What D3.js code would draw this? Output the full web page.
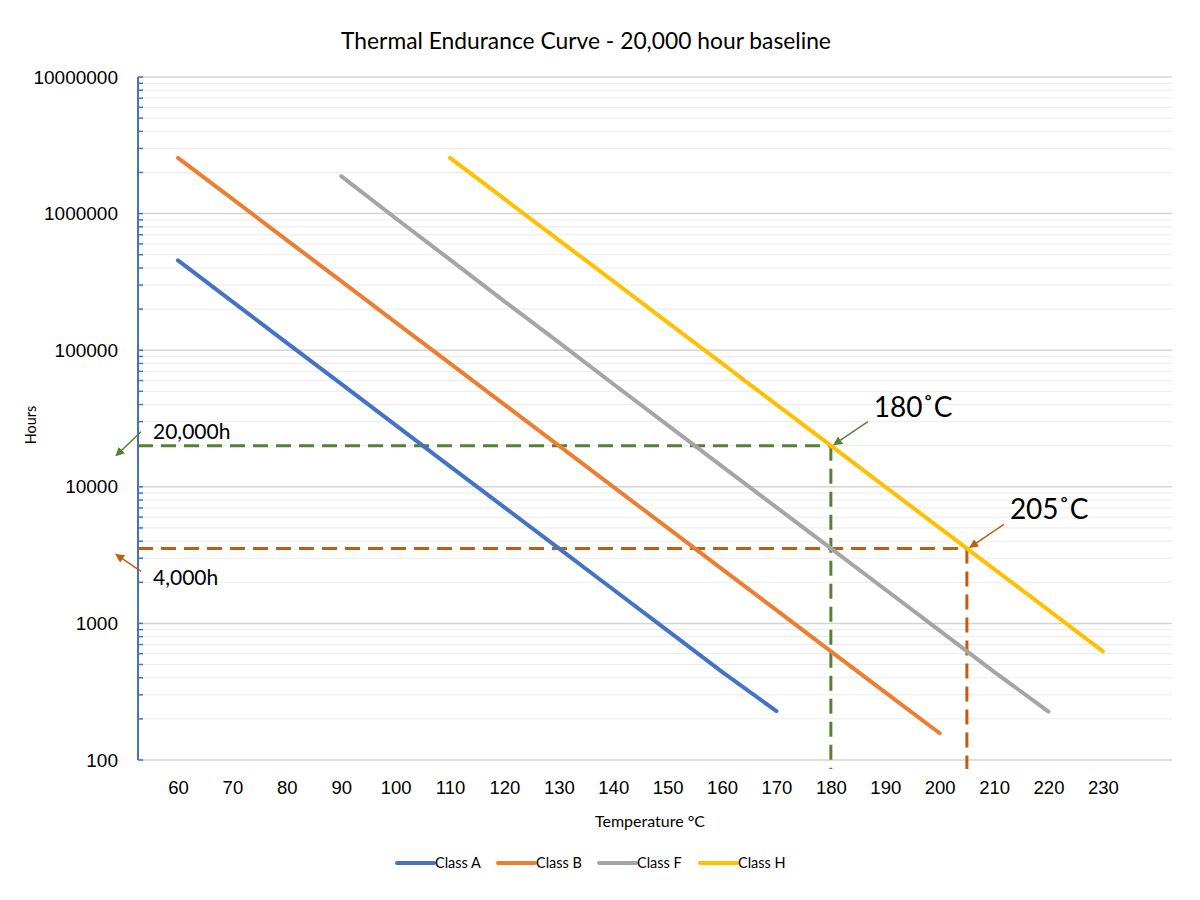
<!DOCTYPE html>
<html>
<head>
<meta charset="utf-8">
<script src="https://cdn.jsdelivr.net/npm/d3@7"></script>
<style>
  body { margin: 0; background: #fff; }
  svg { font-family: Lato, "Open Sans", sans-serif; }
</style>
</head>
<body>
<div id="grafico"></div>
<script>
// Datos (horas por temperatura, cada 10 grados)
var clases = ["Class A", "Class B", "Class F", "Class H"];
var colores = ["#4472C4", "#ED7D31", "#A5A5A5", "#FFC000"];
var tempA = [60, 70, 80, 90, 100, 110, 120, 130, 140, 150, 160, 170];
var horasA = [455000, 227000, 113000, 56600, 28300, 14100, 7070, 3540, 1770, 884, 442, 228];
var tempB = [60, 70, 80, 90, 100, 110, 120, 130, 140, 150, 160, 170, 180, 190, 200];
var horasB = [2560000, 1280000, 640000, 320000, 160000, 80000, 40000, 20000, 10000, 5000, 2500, 1250, 625, 313, 157];
var tempF = [90, 100, 110, 120, 130, 140, 150, 160, 170, 180, 190, 200, 210, 220];
var horasF = [1880000, 925000, 460000, 228000, 114000, 56600, 28300, 14100, 7070, 3540, 1770, 884, 442, 226];
var tempH = [110, 120, 130, 140, 150, 160, 170, 180, 190, 200, 210, 220, 230];
var horasH = [2560000, 1280000, 640000, 320000, 160000, 80000, 40000, 20000, 10000, 5000, 2500, 1250, 625];
var ticksX = [60, 70, 80, 90, 100, 110, 120, 130, 140, 150, 160, 170, 180, 190, 200, 210, 220, 230];
var ticksY = [100, 1000, 10000, 100000, 1000000, 10000000];

// Lineas de referencia (temperatura, horas, etiquetas)
var refTemp = [180, 205];
var refHoras = [20000, 3540];
var refEtiqT = ["180˚C", "205˚C"];
var refEtiqH = ["20,000h", "4,000h"];
var refColor = ["#548235", "#C55A11"];

var series = [
  {nombre: clases[0], t: tempA, h: horasA},
  {nombre: clases[1], t: tempB, h: horasB},
  {nombre: clases[2], t: tempF, h: horasF},
  {nombre: clases[3], t: tempH, h: horasH}
];

var svg = d3.select("#grafico").append("svg")
            .attr("width", 1200)
            .attr("height", 900);

var margin = {top: 77, right: 28, bottom: 140, left: 138},
    width = 1200 - margin.left - margin.right,
    height = 900 - margin.top - margin.bottom,
    g = svg.append("g").attr("transform", "translate(" + margin.left + "," + margin.top + ")");

var x = d3.scaleLinear().domain([52.65, 242.7]).range([0, width]);
var y = d3.scaleLog().domain([100, 10000000]).range([height, 0]);

// marcadores de flecha
var defs = svg.append("defs");
refColor.forEach(function(c, i) {
  defs.append("marker")
      .attr("id", "flecha" + i)
      .attr("viewBox", "0 0 10 10")
      .attr("refX", 9).attr("refY", 5)
      .attr("markerWidth", 6).attr("markerHeight", 6)
      .attr("orient", "auto")
      .append("path").attr("d", "M0,0L10,5L0,10z").attr("fill", c);
});

// rejilla menor y mayor
var menores = [];
for (var e = 2; e < 7; e++) for (var m = 2; m < 10; m++) menores.push(m * Math.pow(10, e));
g.append("g").selectAll("line").data(menores).enter().append("line")
 .attr("x1", 0).attr("x2", width)
 .attr("y1", function(d) { return y(d); }).attr("y2", function(d) { return y(d); })
 .attr("stroke", "#ebebeb").attr("stroke-width", 1);
g.append("g").selectAll("line").data(ticksY).enter().append("line")
 .attr("x1", 0).attr("x2", width)
 .attr("y1", function(d) { return y(d); }).attr("y2", function(d) { return y(d); })
 .attr("stroke", "#d4d4d4").attr("stroke-width", 1.5);

// eje y
var ejeY = g.append("g")
 .call(d3.axisLeft(y).tickValues(ticksY).tickFormat(d3.format("d")).tickSize(0).tickPadding(20));
ejeY.select(".domain").remove();
ejeY.selectAll("text").attr("font-size", 19).attr("fill", "#000");
g.append("g").selectAll("line").data(menores.concat(ticksY)).enter().append("line")
 .attr("x1", 0).attr("x2", 5)
 .attr("y1", function(d) { return y(d); }).attr("y2", function(d) { return y(d); })
 .attr("stroke", "#4472C4").attr("stroke-width", 1.5);
g.append("line").attr("x1", 0).attr("x2", 0).attr("y1", 0).attr("y2", height)
 .attr("stroke", "#4472C4").attr("stroke-width", 2);

// eje x
var ejeX = g.append("g").attr("transform", "translate(0," + height + ")")
 .call(d3.axisBottom(x).tickValues(ticksX).tickFormat(d3.format("d")).tickSize(0).tickPadding(21));
ejeX.select(".domain").remove();
ejeX.selectAll("text").attr("font-size", 18.5).attr("fill", "#000");

// lineas de referencia discontinuas
refTemp.forEach(function(t, i) {
  g.append("path")
   .attr("d", "M0," + y(refHoras[i]) + "H" + x(t) + "M" + x(t) + "," + y(refHoras[i]) + "V" + (height + 9))
   .attr("fill", "none").attr("stroke", refColor[i]).attr("stroke-width", 3)
   .attr("stroke-dasharray", "15,8");
});

// series
var linea = d3.line().x(function(d) { return x(d[0]); }).y(function(d) { return y(d[1]); });
g.append("g").selectAll("path").data(series).enter().append("path")
 .attr("d", function(s) { return linea(d3.zip(s.t, s.h)); })
 .attr("fill", "none")
 .attr("stroke", function(s, i) { return colores[i]; })
 .attr("stroke-width", 4)
 .attr("stroke-linecap", "round");

// anotaciones
refTemp.forEach(function(t, i) {
  var px = x(t), py = y(refHoras[i]);
  g.append("line")
   .attr("x1", px + 37).attr("y1", py - 24).attr("x2", px + 3).attr("y2", py - 1)
   .attr("stroke", refColor[i]).attr("stroke-width", 1.5)
   .attr("marker-end", "url(#flecha" + i + ")");
  g.append("text").attr("x", px + 43).attr("y", py - 29)
   .attr("font-size", 28).attr("fill", "#000").text(refEtiqT[i]);
});
// flechas del eje y
g.append("line").attr("x1", 3).attr("y1", y(refHoras[0]) - 14).attr("x2", -22).attr("y2", y(refHoras[0]) + 10)
 .attr("stroke", refColor[0]).attr("stroke-width", 1.5).attr("marker-end", "url(#flecha0)");
g.append("text").attr("x", 15).attr("y", y(refHoras[0]) - 7).attr("font-size", 21).text(refEtiqH[0]);
g.append("line").attr("x1", 3).attr("y1", y(refHoras[1]) + 23).attr("x2", -22).attr("y2", y(refHoras[1]) + 6)
 .attr("stroke", refColor[1]).attr("stroke-width", 1.5).attr("marker-end", "url(#flecha1)");
g.append("text").attr("x", 15).attr("y", y(refHoras[1]) + 37).attr("font-size", 21).text(refEtiqH[1]);

// titulos
svg.append("text").attr("x", 586).attr("y", 49).attr("text-anchor", "middle")
   .attr("font-size", 22.8).text("Thermal Endurance Curve - 20,000 hour baseline");
svg.append("text").attr("x", 650).attr("y", 827).attr("text-anchor", "middle")
   .attr("font-size", 16).text("Temperature °C");
svg.append("text").attr("transform", "translate(36,425) rotate(-90)").attr("text-anchor", "middle")
   .attr("font-size", 14.5).text("Hours");

// leyenda
var leyenda = svg.append("g").attr("font-size", 14.5)
   .selectAll("g").data(clases).enter().append("g")
   .attr("transform", function(d, i) { return "translate(" + (397 + i * 101) + ",863)"; });
leyenda.append("line").attr("x1", 0).attr("x2", 37).attr("y1", 0).attr("y2", 0)
   .attr("stroke", function(d, i) { return colores[i]; }).attr("stroke-width", 4).attr("stroke-linecap", "round");
leyenda.append("text").attr("x", 38).attr("y", 0).attr("dy", "0.35em").text(function(d) { return d; });
</script>
</body>
</html>
